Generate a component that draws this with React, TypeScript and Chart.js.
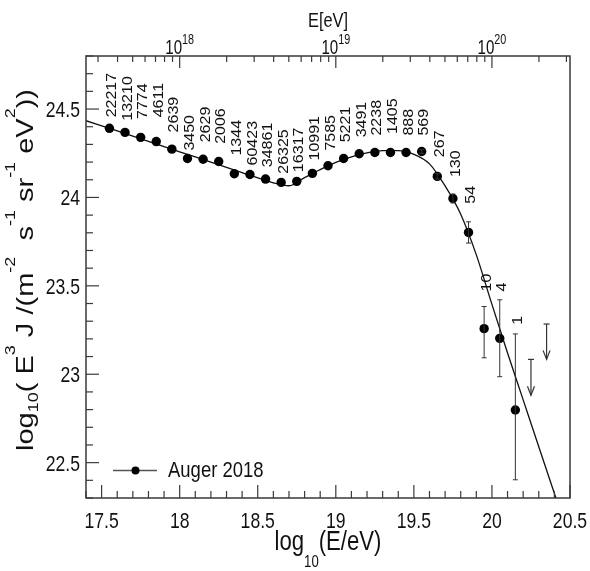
import React, { useEffect, useRef } from 'react';
import { Chart, registerables } from 'chart.js';

Chart.register(...registerables);

// ---------- data ----------
const energyBins = [
  17.55, 17.65, 17.75, 17.85, 17.95, 18.05, 18.15, 18.25, 18.35, 18.45,
  18.55, 18.65, 18.75, 18.85, 18.95, 19.05, 19.15, 19.25, 19.35, 19.45,
  19.55, 19.65, 19.75, 19.85, 19.95, 20.05, 20.15,
];
const fluxValues = [
  24.391, 24.368, 24.340, 24.316, 24.273, 24.220, 24.216, 24.203, 24.134, 24.130,
  24.104, 24.085, 24.091, 24.136, 24.179, 24.220, 24.247, 24.254, 24.254, 24.254,
  24.260, 24.119, 23.994, 23.802, 23.258, 23.203, 22.798,
];
const errUp = [
  0, 0, 0, 0, 0, 0, 0, 0, 0, 0,
  0, 0, 0, 0, 0, 0, 0, 0, 0, 0,
  0.01, 0.015, 0.025, 0.06, 0.125, 0.218, 0.43,
];
const errDown = [
  0, 0, 0, 0, 0, 0, 0, 0, 0, 0,
  0, 0, 0, 0, 0, 0, 0, 0, 0, 0,
  0.01, 0.015, 0.025, 0.06, 0.165, 0.217, 0.395,
];
const eventCounts = [
  '22217', '13210', '7774', '4611', '2639', '3450', '2629', '2006', '1344', '60423',
  '34861', '26325', '16317', '10991', '7585', '5221', '3491', '2238', '1405', '888',
  '569', '267', '130', '54', '10', '4', '1',
];
// level (in y units) where each rotated count label starts
const countLabelLevel = [
  24.453, 24.434, 24.444, 24.453, 24.368, 24.265, 24.312, 24.303, 24.237, 24.181,
  24.171, 24.134, 24.143, 24.209, 24.265, 24.312, 24.340, 24.350, 24.359, 24.350,
  24.350, 24.228, 24.115, 23.965, 23.468, 23.468, 23.280,
];
const upperLimitX = [20.25, 20.35];
const upperLimitFrom = [23.084, 23.284];
const upperLimitTo = [22.881, 23.084];

const fitX = [
  17.4, 17.6, 17.8, 18.0, 18.2, 18.4, 18.6, 18.7, 18.8, 18.9, 19.0, 19.1, 19.2,
  19.3, 19.4, 19.5, 19.6, 19.7, 19.8, 19.9, 20.0, 20.1, 20.2, 20.3, 20.41,
];
const fitY = [
  24.434, 24.376, 24.317, 24.258, 24.200, 24.141, 24.083, 24.066, 24.112, 24.157,
  24.198, 24.230, 24.252, 24.265, 24.265, 24.244, 24.190, 24.065, 23.905, 23.675,
  23.395, 23.120, 22.855, 22.590, 22.300,
];

const xTickValues = [17.5, 18, 18.5, 19, 19.5, 20, 20.5];
const xTickLabels = ['17.5', '18', '18.5', '19', '19.5', '20', '20.5'];
const yTickValues = [22.5, 23, 23.5, 24, 24.5];
const yTickLabels = ['22.5', '23', '23.5', '24', '24.5'];
const topDecades = [18, 19, 20];
const topExponents = ['18', '19', '20'];

const X_MIN = 17.4;
const X_MAX = 20.5;
const Y_MIN = 22.3;
const Y_MAX = 24.8;

const SERIES_LABEL = 'Auger 2018';

// ---------- drawing helpers ----------
const FONT = "'Liberation Sans', Arial, Helvetica, sans-serif";
const INK = '#111';
const FRAME = '#3a3a3a';

type Part = { t: string; s: number; dy?: number };

function drawRich(
  ctx: CanvasRenderingContext2D,
  parts: Part[],
  x: number,
  y: number,
  align: 'left' | 'center' | 'right',
  sx: number,
  rot = false,
  color = INK,
) {
  ctx.save();
  ctx.translate(x, y);
  ctx.scale(sx, 1);
  if (rot) ctx.rotate(-Math.PI / 2);
  ctx.textBaseline = 'alphabetic';
  ctx.textAlign = 'left';
  ctx.fillStyle = color;
  const widths: number[] = [];
  let total = 0;
  for (const p of parts) {
    ctx.font = `${p.s}px ${FONT}`;
    const w = ctx.measureText(p.t).width;
    widths.push(w);
    total += w;
  }
  let cur = align === 'center' ? -total / 2 : align === 'right' ? -total : 0;
  parts.forEach((p, i) => {
    ctx.font = `${p.s}px ${FONT}`;
    ctx.fillText(p.t, cur, p.dy || 0);
    cur += widths[i];
  });
  ctx.restore();
}

function line(ctx: CanvasRenderingContext2D, x1: number, y1: number, x2: number, y2: number) {
  ctx.beginPath();
  ctx.moveTo(x1, y1);
  ctx.lineTo(x2, y2);
  ctx.stroke();
}

const decorPlugin = {
  id: 'decor',
  afterDatasetsDraw(chart: any) {
    const ctx: CanvasRenderingContext2D = chart.ctx;
    const ca = chart.chartArea;
    const xs = chart.scales.x;
    const xt = chart.scales.xTop;
    const ys = chart.scales.y;

    // error bars
    ctx.save();
    ctx.strokeStyle = '#333';
    ctx.lineWidth = 1;
    energyBins.forEach((e, i) => {
      if (errUp[i] <= 0 && errDown[i] <= 0) return;
      const px = xs.getPixelForValue(e);
      const top = ys.getPixelForValue(fluxValues[i] + errUp[i]);
      const bot = ys.getPixelForValue(fluxValues[i] - errDown[i]);
      line(ctx, px, top, px, bot);
      line(ctx, px - 2.5, top, px + 2.5, top);
      line(ctx, px - 2.5, bot, px + 2.5, bot);
    });
    // upper limits
    ctx.lineWidth = 1.2;
    upperLimitX.forEach((e, i) => {
      const px = xs.getPixelForValue(e);
      const top = ys.getPixelForValue(upperLimitFrom[i]);
      const tip = ys.getPixelForValue(upperLimitTo[i]);
      line(ctx, px, top, px, tip);
      line(ctx, px - 3, top, px + 3, top);
      ctx.beginPath();
      ctx.moveTo(px - 3.5, tip - 9);
      ctx.lineTo(px, tip);
      ctx.lineTo(px + 3.5, tip - 9);
      ctx.stroke();
    });
    ctx.restore();

    // count labels
    energyBins.forEach((e, i) => {
      const px = xs.getPixelForValue(e) + 1.5;
      const py = ys.getPixelForValue(countLabelLevel[i]);
      drawRich(ctx, [{ t: eventCounts[i], s: 16, dy: 5.8 }], px, py, 'left', 0.88, true);
    });

    // frame
    ctx.save();
    ctx.strokeStyle = FRAME;
    ctx.lineWidth = 1.5;
    ctx.strokeRect(ca.left, ca.top, ca.right - ca.left, ca.bottom - ca.top);
    ctx.lineWidth = 1.2;
    // left axis ticks
    for (let k = Math.ceil(Y_MIN * 10); k <= Math.floor(Y_MAX * 10); k++) {
      const v = k / 10;
      const major = k % 5 === 0;
      const py = ys.getPixelForValue(v);
      line(ctx, ca.left, py, ca.left + (major ? 13 : 7), py);
    }
    // bottom axis ticks
    for (let k = Math.ceil(X_MIN * 10); k <= Math.floor(X_MAX * 10 + 1e-6); k++) {
      const v = k / 10;
      const major = k % 5 === 0;
      const px = xs.getPixelForValue(v);
      line(ctx, px, ca.bottom, px, ca.bottom - (major ? 13 : 7));
    }
    // top log axis ticks
    for (let n = 17; n <= 20; n++) {
      for (let m = 1; m <= 9; m++) {
        const v = n + Math.log10(m);
        if (v < X_MIN || v > X_MAX) continue;
        const px = xt.getPixelForValue(v);
        line(ctx, px, ca.top, px, ca.top + (m === 1 ? 12 : 6));
      }
    }
    ctx.restore();

    // bottom tick labels (positions from the scale's own ticks)
    xs.ticks.forEach((t: any, i: number) => {
      const px = xs.getPixelForValue(t.value);
      drawRich(ctx, [{ t: xTickLabels[i], s: 22 }], px, ca.bottom + 29.5, 'center', 0.8);
    });
    // left tick labels
    ys.ticks.forEach((t: any, i: number) => {
      const py = ys.getPixelForValue(t.value);
      drawRich(ctx, [{ t: yTickLabels[i], s: 22 }], ca.left - 6, py + 8, 'right', 0.8);
    });

    // top tick labels 10^n
    topDecades.forEach((n, i) => {
      const px = xt.getPixelForValue(n);
      drawRich(
        ctx,
        [
          { t: '10', s: 21 },
          { t: topExponents[i], s: 15, dy: -10.5 },
        ],
        px,
        ca.top - 2,
        'center',
        0.72,
      );
    });
    // top title
    drawRich(ctx, [{ t: 'E[eV]', s: 20 }], (ca.left + ca.right) / 2, 27, 'center', 0.82);

    // bottom title
    drawRich(
      ctx,
      [
        { t: 'log', s: 27 },
        { t: '10', s: 16, dy: 17 },
        { t: '(E/eV)', s: 27 },
      ],
      (ca.left + ca.right) / 2,
      550,
      'center',
      0.82,
    );

    // y title
    drawRich(
      ctx,
      [
        { t: 'log', s: 29 },
        { t: '10', s: 18, dy: 6 },
        { t: '( E', s: 29 },
        { t: '3', s: 18, dy: -22 },
        { t: ' J /(m', s: 29 },
        { t: '-2', s: 18, dy: -22 },
        { t: '  s', s: 29 },
        { t: '-1', s: 18, dy: -22 },
        { t: ' sr', s: 29 },
        { t: '-1', s: 18, dy: -22 },
        { t: ' eV', s: 29 },
        { t: '2', s: 18, dy: -22 },
        { t: '))', s: 29 },
      ],
      33,
      270,
      'center',
      0.8,
      true,
    );

    // legend
    const lx = ca.left + 27;
    const ly = ca.bottom - 27.5;
    ctx.save();
    ctx.strokeStyle = '#555';
    ctx.lineWidth = 1.4;
    line(ctx, lx, ly, lx + 44, ly);
    ctx.fillStyle = '#000';
    ctx.beginPath();
    ctx.arc(lx + 22.5, ly, 4, 0, Math.PI * 2);
    ctx.fill();
    ctx.restore();
    drawRich(ctx, [{ t: SERIES_LABEL, s: 22 }], lx + 55, ca.bottom - 21, 'left', 0.84);
  },
};

export default function App() {
  const ref = useRef<HTMLCanvasElement | null>(null);

  useEffect(() => {
    const canvas = ref.current;
    if (!canvas) return;
    const chart = new Chart(canvas, {
      type: 'scatter',
      data: {
        datasets: [
          {
            label: SERIES_LABEL,
            data: energyBins.map((x, i) => ({ x, y: fluxValues[i] })),
            showLine: false,
            pointRadius: 4.7,
            pointHoverRadius: 4.7,
            pointBackgroundColor: '#000',
            pointBorderColor: '#000',
            pointBorderWidth: 0,
          },
          {
            label: 'fit',
            data: fitX.map((x, i) => ({ x, y: fitY[i] })),
            showLine: true,
            borderColor: '#111',
            borderWidth: 1.3,
            pointRadius: 0,
            pointHoverRadius: 0,
            cubicInterpolationMode: 'monotone',
            fill: false,
          },
        ],
      },
      options: {
        animation: false,
        responsive: false,
        maintainAspectRatio: false,
        events: [],
        layout: { padding: { left: 0, right: 20, top: 0, bottom: 0 } },
        plugins: { legend: { display: false }, tooltip: { enabled: false } },
        scales: {
          x: {
            type: 'linear',
            position: 'bottom',
            min: X_MIN,
            max: X_MAX,
            afterBuildTicks: (s: any) => {
              s.ticks = xTickValues.map((v) => ({ value: v }));
            },
            afterFit: (s: any) => {
              s.height = 73;
            },
            grid: { display: false, drawTicks: false },
            border: { display: false },
            ticks: { display: false },
          },
          xTop: {
            type: 'linear',
            position: 'top',
            min: X_MIN,
            max: X_MAX,
            afterFit: (s: any) => {
              s.height = 56;
            },
            grid: { display: false, drawTicks: false },
            border: { display: false },
            ticks: { display: false },
          },
          y: {
            type: 'linear',
            position: 'left',
            min: Y_MIN,
            max: Y_MAX,
            afterBuildTicks: (s: any) => {
              s.ticks = yTickValues.map((v) => ({ value: v }));
            },
            afterFit: (s: any) => {
              s.width = 86;
            },
            grid: { display: false, drawTicks: false },
            border: { display: false },
            ticks: { display: false },
          },
        },
      },
      plugins: [decorPlugin],
    } as any);
    return () => chart.destroy();
  }, []);

  return (
    <div style={{ position: 'fixed', left: 0, top: 0, width: 590, height: 571, background: '#fff' }}>
      <canvas ref={ref} width={590} height={571} style={{ display: 'block', width: 590, height: 571 }} />
    </div>
  );
}
